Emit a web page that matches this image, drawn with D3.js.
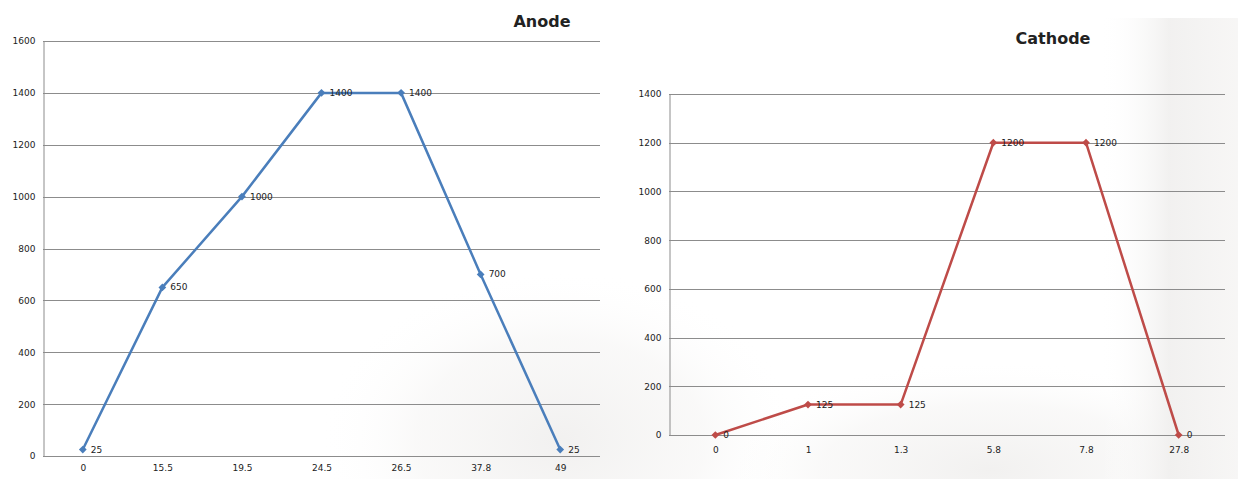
<!DOCTYPE html>
<html>
<head>
<meta charset="utf-8">
<script src="https://cdn.jsdelivr.net/npm/d3@7"></script>
<style>
  body { margin: 0; background: #fff; }
  svg { display: block; }
  text { font-family: "DejaVu Sans", Verdana, sans-serif; fill: #222; }
</style>
</head>
<body>
<div id="chart"></div>
<script>
// Anode data
var anodeCats = ["0", "15.5", "19.5", "24.5", "26.5", "37.8", "49"];
var anodeVals = [25, 650, 1000, 1400, 1400, 700, 25];
var anodeTicks = [0, 200, 400, 600, 800, 1000, 1200, 1400, 1600];

// Cathode data
var cathodeCats = ["0", "1", "1.3", "5.8", "7.8", "27.8"];
var cathodeVals = [0, 125, 125, 1200, 1200, 0];
var cathodeTicks = [0, 200, 400, 600, 800, 1000, 1200, 1400];

function init(){
    var w = 1238;
    var h = 479;

    var svg = d3.select("#chart")
        .append("svg")
        .attr("width", w)
        .attr("height", h);

    var defs = svg.append("defs");

    // faint background shading (watermark stand-in)
    var rg = defs.append("radialGradient").attr("id", "shadeL");
    rg.append("stop").attr("offset", "0%").attr("stop-color", "#f0efee").attr("stop-opacity", 0.9);
    rg.append("stop").attr("offset", "60%").attr("stop-color", "#f4f3f2").attr("stop-opacity", 0.5);
    rg.append("stop").attr("offset", "100%").attr("stop-color", "#ffffff").attr("stop-opacity", 0);

    var lg = defs.append("linearGradient").attr("id", "shadeR")
        .attr("x1", "0%").attr("x2", "100%");
    lg.append("stop").attr("offset", "0%").attr("stop-color", "#ffffff").attr("stop-opacity", 0);
    lg.append("stop").attr("offset", "50%").attr("stop-color", "#f0efee").attr("stop-opacity", 0.9);
    lg.append("stop").attr("offset", "100%").attr("stop-color", "#f5f4f3").attr("stop-opacity", 0.8);

    svg.append("ellipse")
        .attr("cx", 560).attr("cy", 440)
        .attr("rx", 240).attr("ry", 170)
        .attr("fill", "url(#shadeL)");

    svg.append("ellipse")
        .attr("cx", 990).attr("cy", 470)
        .attr("rx", 280).attr("ry", 110)
        .attr("fill", "url(#shadeL)");

    svg.append("rect")
        .attr("x", 1100).attr("y", 18)
        .attr("width", 138).attr("height", 461)
        .attr("fill", "url(#shadeR)");

    drawChart(svg, {
        cats: anodeCats, vals: anodeVals, ticks: anodeTicks,
        x0: 43, x1: 600, yTop: 41, yBot: 456, yMax: 1600,
        color: "#4a7ebb", title: "Anode", titleX: 542, titleY: 27,
        xLabelY: 473
    });

    drawChart(svg, {
        cats: cathodeCats, vals: cathodeVals, ticks: cathodeTicks,
        x0: 669, x1: 1225, yTop: 94, yBot: 435, yMax: 1400,
        color: "#be4b48", title: "Cathode", titleX: 1053, titleY: 44,
        xLabelY: 455
    });
}

function drawChart(svg, o){
    var xScale = d3.scalePoint()
        .domain(o.cats)
        .range([o.x0, o.x1])
        .padding(0.5);

    var yScale = d3.scaleLinear()
        .domain([0, o.yMax])
        .range([o.yBot, o.yTop]);

    var g = svg.append("g");

    // gridlines
    g.selectAll(".grid")
        .data(o.ticks)
        .enter().append("line")
        .attr("x1", o.x0)
        .attr("x2", o.x1)
        .attr("y1", function(d){ return Math.round(yScale(d)) + 0.5; })
        .attr("y2", function(d){ return Math.round(yScale(d)) + 0.5; })
        .attr("stroke", "#8c8c8c")
        .attr("stroke-width", 1);

    // y axis
    var yAxis = d3.axisLeft(yScale)
        .tickValues(o.ticks)
        .tickFormat(d3.format("d"))
        .tickSize(0)
        .tickPadding(8);
    var ya = g.append("g")
        .attr("transform", "translate(" + (o.x0 + 0.5) + ",0)")
        .call(yAxis);
    ya.select(".domain").attr("stroke", "#8c8c8c");
    ya.selectAll("text").attr("font-size", "9px").attr("fill", "#222")
        .attr("font-family", "'DejaVu Sans', sans-serif");

    // x axis
    var xAxis = d3.axisBottom(xScale).tickSize(0).tickPadding(o.xLabelY - o.yBot - 8);
    var xa = g.append("g")
        .attr("transform", "translate(0," + o.yBot + ")")
        .call(xAxis);
    xa.select(".domain").remove();
    xa.selectAll("text").attr("font-size", "9px").attr("fill", "#222")
        .attr("font-family", "'DejaVu Sans', sans-serif");

    // line
    var data = o.cats.map(function(c, i){ return {cat: c, val: o.vals[i]}; });
    var line = d3.line()
        .x(function(d){ return xScale(d.cat); })
        .y(function(d){ return yScale(d.val); });

    g.append("path")
        .datum(data)
        .attr("d", line)
        .attr("fill", "none")
        .attr("stroke", o.color)
        .attr("stroke-width", 2.5)
        .attr("stroke-linejoin", "round");

    // diamond markers (square turned 45deg)
    g.selectAll(".marker")
        .data(data)
        .enter().append("path")
        .attr("d", d3.symbol().type(d3.symbolSquare).size(30))
        .attr("transform", function(d){
            return "translate(" + xScale(d.cat) + "," + yScale(d.val) + ") rotate(45)";
        })
        .attr("fill", o.color);

    // data labels
    g.selectAll(".lbl")
        .data(data)
        .enter().append("text")
        .attr("x", function(d){ return xScale(d.cat) + 8; })
        .attr("y", function(d){ return yScale(d.val) + 3; })
        .attr("font-size", "9px")
        .text(function(d){ return d.val; });

    // title
    svg.append("text")
        .attr("x", o.titleX)
        .attr("y", o.titleY)
        .attr("text-anchor", "middle")
        .attr("font-family", "'Open Sans', sans-serif")
        .attr("font-size", "16px")
        .attr("font-weight", "bold")
        .attr("fill", "#111")
        .text(o.title);
}

window.onload = init;
</script>
</body>
</html>
